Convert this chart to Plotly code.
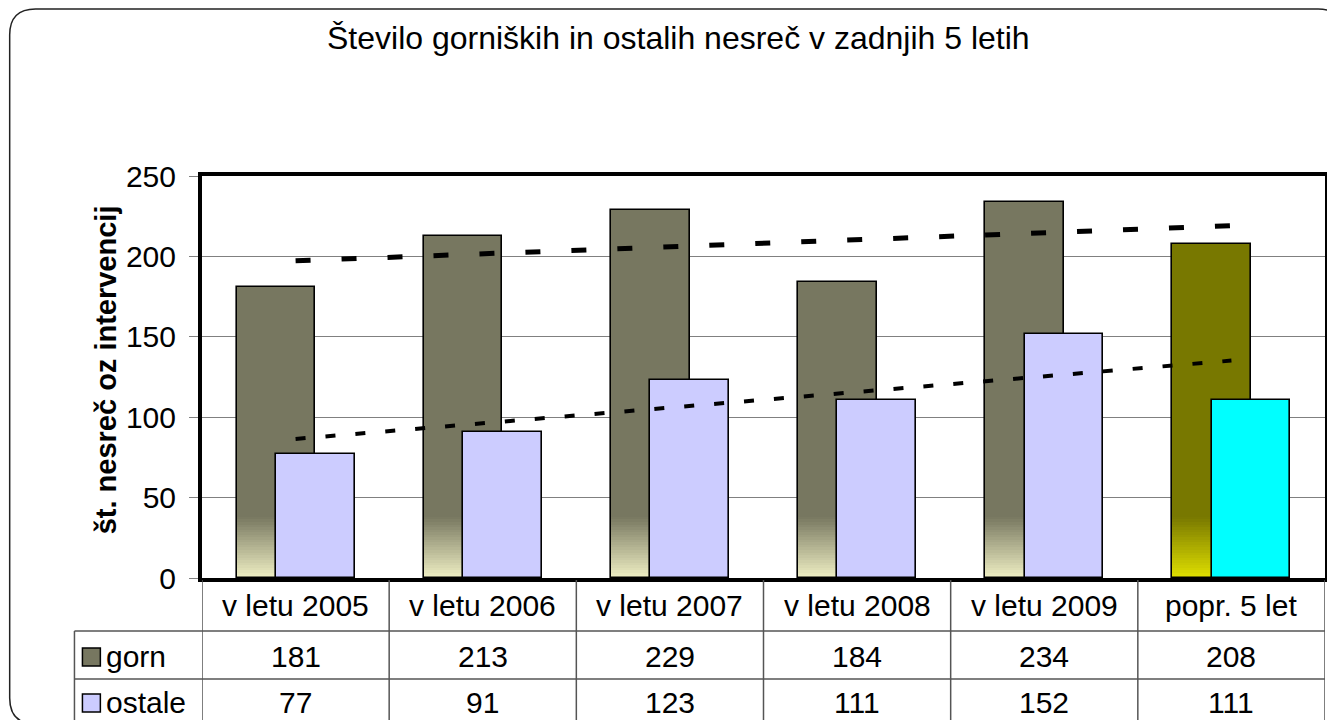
import numpy as np
import plotly.graph_objects as go

# ---------------- data ----------------
categories = ["v letu 2005", "v letu 2006", "v letu 2007", "v letu 2008", "v letu 2009", "popr. 5 let"]
gorn = [181, 213, 229, 184, 234, 208]
ostale = [77, 91, 123, 111, 152, 111]
series_names = ["gorn", "ostale"]
title_text = "Število gorniških in ostalih nesreč v zadnjih 5 letih"
yaxis_title = "št. nesreč oz intervencij"
y_ticks = [0, 50, 100, 150, 200, 250]

# ---------------- styles ----------------
FONT = "Liberation Sans, Arial, sans-serif"
OFF = 8                      # page body margin of the html page
W, H = 1335 - OFF, 720 - OFF
L, R, T, B = 202, 1329, 176, 578  # plot area in page pixels
gorn_col = (119, 119, 96)
gorn_light = (240, 240, 196)
olive_col = (120, 120, 0)
olive_light = (224, 224, 0)
ostale_col = "#CCCCFF"
cyan_col = "#00FFFF"

BAR_W = 0.42
GORN_OFF = -0.315
OST_OFF = -0.105
GRAD_TOP = 38.0
NSEG = 24


def px_x(X):
    return (X - L) / (R - L)


def px_y(Y):
    return (B - Y) / (B - T)


def rgb(c):
    return "rgb(%d,%d,%d)" % tuple(int(round(v)) for v in c)


def mix(a, b, t):
    return tuple(a[i] * (1 - t) + b[i] * t for i in range(3))


x = np.arange(1, len(categories) + 1)
n = len(categories)
gorn_fill = [rgb(gorn_col)] * (n - 1) + [rgb(olive_col)]
ost_fill = [ostale_col] * (n - 1) + [cyan_col]

fig = go.Figure()

# gorn base fill
fig.add_trace(go.Bar(x=x, y=gorn, width=[BAR_W] * n, offset=[GORN_OFF] * n,
                     marker=dict(color=gorn_fill, line=dict(width=0)),
                     showlegend=False, hoverinfo="skip"))
# gradient at the bottom of gorn bars
seg_h = GRAD_TOP / NSEG
for k in range(NSEG):
    t = 1 - (k + 0.5) / NSEG  # 1 at base -> 0 at top
    cols = [rgb(mix(gorn_col, gorn_light, t))] * (n - 1) + [rgb(mix(olive_col, olive_light, t))]
    fig.add_trace(go.Bar(x=x, y=[seg_h] * n, base=[k * seg_h] * n,
                         width=[BAR_W] * n, offset=[GORN_OFF] * n,
                         marker=dict(color=cols, line=dict(width=0)),
                         showlegend=False, hoverinfo="skip"))
# gorn outline
fig.add_trace(go.Bar(x=x, y=gorn, width=[BAR_W] * n, offset=[GORN_OFF] * n,
                     marker=dict(color="rgba(0,0,0,0)", line=dict(color="black", width=1.6)),
                     name=series_names[0], showlegend=False))
# ostale
fig.add_trace(go.Bar(x=x, y=ostale, width=[BAR_W] * n, offset=[OST_OFF] * n,
                     marker=dict(color=ost_fill, line=dict(color="black", width=1.6)),
                     name=series_names[1], showlegend=False))

# linear trend lines
for vals, wdt, dash in [(gorn, 5, "15px,31px"), (ostale, 4, "10px,20px")]:
    k, b0 = np.polyfit(x, vals, 1)
    xs = np.array([x[0], x[-1]])
    fig.add_trace(go.Scatter(x=xs, y=k * xs + b0, mode="lines",
                             line=dict(color="black", width=wdt, dash=dash),
                             showlegend=False, hoverinfo="skip"))

shapes = []
annotations = []

# outer rounded border
r = 26
x0, y0, x1, y1 = 9, 9, 1348, 724


def P(X, Y):
    return "%f,%f" % (px_x(X), px_y(Y))


path = ("M " + P(x0 + r, y0) + " L " + P(x1 - r, y0) + " Q " + P(x1, y0) + " " + P(x1, y0 + r) +
        " L " + P(x1, y1 - r) + " Q " + P(x1, y1) + " " + P(x1 - r, y1) +
        " L " + P(x0 + r, y1) + " Q " + P(x0, y1) + " " + P(x0, y1 - r) +
        " L " + P(x0, y0 + r) + " Q " + P(x0, y0) + " " + P(x0 + r, y0) + " Z")
shapes.append(dict(type="path", xref="paper", yref="paper", path=path,
                   line=dict(color="#222222", width=1.5), layer="below"))

# data table lines
row1, row2 = 631, 679
tbl_left = 74
line_col = "#555555"
for Y in (row1, row2):
    shapes.append(dict(type="line", xref="paper", yref="paper", x0=px_x(tbl_left), x1=px_x(R),
                       y0=px_y(Y), y1=px_y(Y), line=dict(color=line_col, width=1.5)))
shapes.append(dict(type="line", xref="paper", yref="paper", x0=px_x(tbl_left), x1=px_x(tbl_left),
                   y0=px_y(row1), y1=px_y(725), line=dict(color=line_col, width=1.5)))
for i in range(n + 1):
    xv = 0.5 + i
    shapes.append(dict(type="line", xref="x", yref="paper", x0=xv, x1=xv,
                       y0=px_y(B + 2), y1=px_y(725), line=dict(color=line_col, width=1.5)))

# legend keys in table
for (Yc, col) in [(657, rgb(gorn_col)), (703, ostale_col)]:
    shapes.append(dict(type="rect", xref="paper", yref="paper",
                       x0=px_x(82), x1=px_x(100), y0=px_y(Yc - 9), y1=px_y(Yc + 9),
                       fillcolor=col, line=dict(color="black", width=1.5)))

tfont = dict(family=FONT, size=30, color="black")
for i, c in enumerate(categories):
    annotations.append(dict(x=x[i], y=px_y(605), xref="x", yref="paper", text=c,
                            showarrow=False, font=tfont, xanchor="center", yanchor="middle"))
    annotations.append(dict(x=x[i], y=px_y(656), xref="x", yref="paper", text=str(gorn[i]),
                            showarrow=False, font=tfont, xanchor="center", yanchor="middle"))
    annotations.append(dict(x=x[i], y=px_y(702), xref="x", yref="paper", text=str(ostale[i]),
                            showarrow=False, font=tfont, xanchor="center", yanchor="middle"))
for Yc, name in [(656, series_names[0]), (702, series_names[1])]:
    annotations.append(dict(x=px_x(104), y=px_y(Yc), xref="paper", yref="paper", text=name,
                            showarrow=False, font=tfont, xanchor="left", yanchor="middle"))

# title
annotations.append(dict(x=px_x(680), y=px_y(38), xref="paper", yref="paper", text=title_text,
                        showarrow=False, font=dict(family=FONT, size=32, color="black"),
                        xanchor="center", yanchor="middle"))
# y axis title
annotations.append(dict(x=px_x(106), y=px_y(370), xref="paper", yref="paper", text="<b>" + yaxis_title + "</b>",
                        showarrow=False, textangle=-90, font=dict(family=FONT, size=29, color="black"),
                        xanchor="center", yanchor="middle"))

fig.update_layout(
    width=W, height=H,
    margin=dict(l=L - OFF, r=W - (R - OFF), t=T - OFF, b=H - (B - OFF), pad=0),
    paper_bgcolor="white", plot_bgcolor="white",
    barmode="overlay", bargap=0,
    shapes=shapes, annotations=annotations,
    xaxis=dict(range=[0.5, n + 0.5], showgrid=False, showticklabels=False, ticks="",
               showline=True, linewidth=4, linecolor="black", mirror=True, zeroline=False,
               fixedrange=True),
    yaxis=dict(range=[0, 250], tickvals=y_ticks, showgrid=True, gridcolor="#808080", gridwidth=1,
               showline=True, linewidth=4, linecolor="black", mirror=True, zeroline=False,
               ticks="outside", ticklen=9, tickcolor="#808080", tickwidth=1,
               tickfont=dict(family=FONT, size=30, color="black"), ticklabelstandoff=7,
               fixedrange=True),
    showlegend=False,
)

fig.write_html("out.html")
